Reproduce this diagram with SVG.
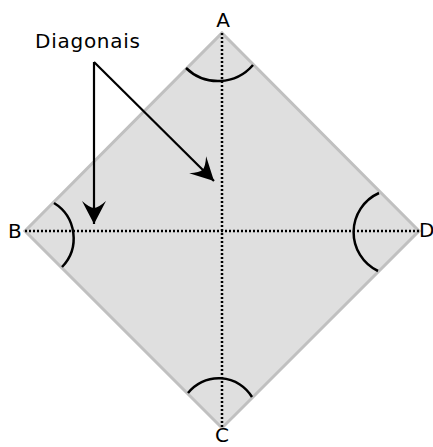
<svg xmlns="http://www.w3.org/2000/svg" width="433" height="447" viewBox="0 0 433 447">
<style>
.lbl{font-family:"DejaVu Sans","Liberation Sans",sans-serif;font-size:20px;fill:#000}
.arc{fill:none;stroke:#000;stroke-width:2.5}
.dot{fill:none;stroke:#000;stroke-width:2.5;stroke-dasharray:2 2}
.arr{fill:none;stroke:#000;stroke-width:2.2}
</style>
<defs>
<marker id="ah" viewBox="-24 -13 26 26" refX="0" refY="0" markerWidth="26" markerHeight="26" markerUnits="userSpaceOnUse" orient="auto">
<path d="M0,0 L-23,-12 Q-16,-4 -16,0 Q-16,4 -23,12 Z" fill="#000"/>
</marker>
</defs>
<g id="square">
<polygon points="222,33 419,231 222,428 25,231" fill="#dfdfdf" stroke="#c0c0c0" stroke-width="3"/>
</g>
<g id="diagonals">
<line class="dot" x1="222" y1="33" x2="222" y2="428"/>
<line class="dot" x1="25" y1="231" x2="419" y2="231"/>
</g>
<g id="angles">
<path class="arc" d="M186,68 A46,46 0 0 0 253,65"/>
<path class="arc" d="M379,193 A43,43 0 0 0 378,271"/>
<path class="arc" d="M188,393 A39,39 0 0 1 252,397"/>
<path class="arc" d="M54,203 A41.4,41.4 0 0 1 62,267"/>
</g>
<g id="connectors">
<line class="arr" x1="94" y1="62" x2="214" y2="181" marker-end="url(#ah)"/>
<line class="arr" x1="94" y1="62" x2="94" y2="224" marker-end="url(#ah)"/>
</g>
<g id="labels">
<text class="lbl" x="223" y="27" text-anchor="middle">A</text>
<text class="lbl" x="8" y="238">B</text>
<text class="lbl" x="222" y="442" text-anchor="middle" font-size="16">C</text>
<text class="lbl" x="419" y="237" font-size="16">D</text>
<text class="lbl" x="35" y="48" textLength="105" lengthAdjust="spacing">Diagonais</text>
</g>
</svg>
